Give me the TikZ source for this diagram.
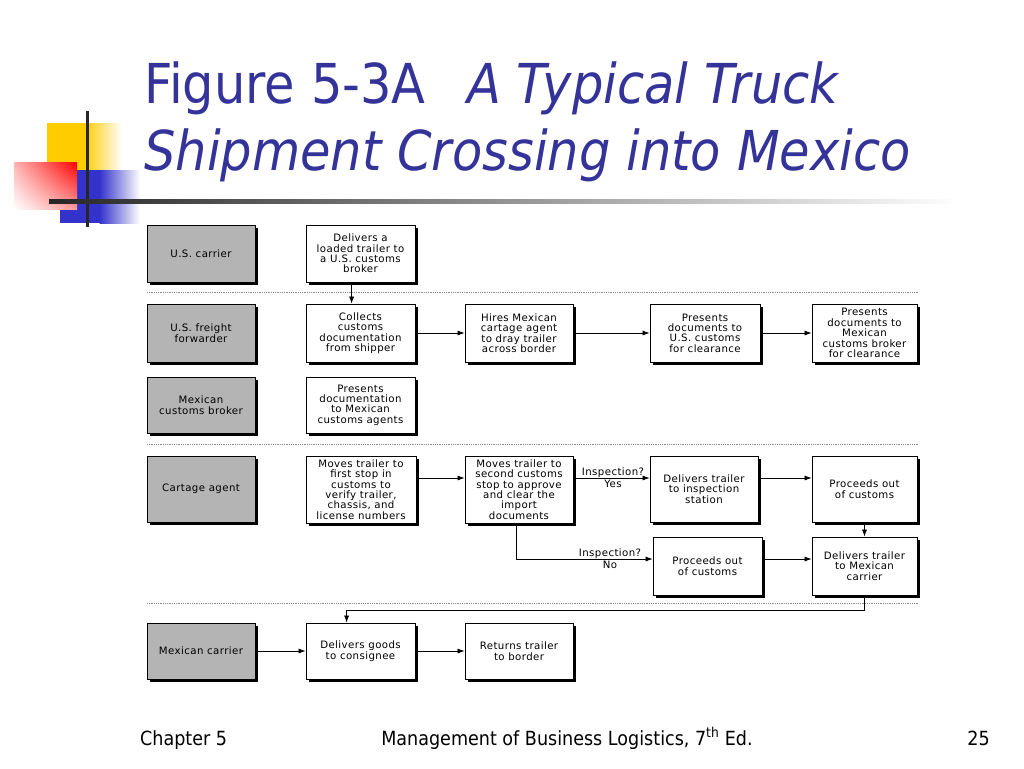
\documentclass[tikz,border=0pt]{standalone}
\usepackage{fontspec}
\usetikzlibrary{arrows.meta,shadows,shadings}
\newfontfamily\titlefont[FakeStretch=0.9]{DejaVu Sans}
\newfontfamily\boxfont[LetterSpace=4]{DejaVu Sans}
\definecolor{titleblue}{RGB}{51,51,153}
\definecolor{rolegrey}{RGB}{180,180,180}
\definecolor{decoyellow}{RGB}{255,204,0}
\definecolor{decoblue}{RGB}{51,51,204}
\definecolor{decored}{RGB}{255,0,0}
\tikzset{
  boxbase/.style={draw=black, line width=0.8pt, align=center, inner sep=1pt,
    font=\boxfont\fontsize{10.2}{10.4}\selectfont,
    drop shadow={shadow xshift=3pt, shadow yshift=-3pt, fill=black, opacity=1}},
  rolebox/.style={boxbase, fill=rolegrey, minimum width=108pt},
  taskbox/.style={boxbase, fill=white, minimum width=108pt},
  arr/.style={draw=black, line width=0.7pt, -{Latex[length=7pt,width=5pt]}},
  sepline/.style={draw=black!45, line width=1pt, dash pattern=on 1pt off 0.8pt},
  lbl/.style={align=center, inner sep=0pt, font=\boxfont\fontsize{10.2}{12}\selectfont},
  titletext/.style={anchor=base west, inner sep=0pt, text=titleblue, font=\titlefont\fontsize{55}{60}\selectfont},
  foot/.style={inner sep=0pt, font=\titlefont\fontsize{19.5}{22}\selectfont}
}
\begin{document}
\begin{tikzpicture}[x=1pt,y=-1pt]
\path[use as bounding box, fill=white] (0,0) rectangle (1024,768);

% decoration
\fill[decoyellow] (47,123) rectangle (85,172);
\shade[left color=decoyellow, right color=white] (84.5,123) rectangle (122,172);
\fill[decoblue] (60,170) rectangle (100,223);
\shade[left color=decoblue, right color=white] (99.5,170) rectangle (140,223);
\shade[upper right=decored, upper left=decored!30!white, lower left=white, lower right=decored!40!white] (14,162) rectangle (77,209);
\draw[line width=3pt, black!85] (87,111) -- (87,227);
\shade[left color=black!85, middle color=black!35, right color=white] (49,199) rectangle (960,203);

% title
\node[titletext] (t1) at (144,103) {Figure 5-3A};
\node[titletext] (t2) at (467,103) {\itshape A Typical Truck};
\node[titletext] (t3) at (144,170) {\itshape Shipment Crossing into Mexico};

% separators
\draw[sepline] (147,292) -- (918,292);
\draw[sepline] (147,444) -- (918,444);
\draw[sepline] (147,603) -- (918,603);

% role boxes
\node[rolebox, minimum height=57pt] (usc) at (201,253.5) {U.S. carrier};
\node[rolebox, minimum height=58pt] (usff) at (201,333) {U.S. freight\\forwarder};
\node[rolebox, minimum height=56pt] (mcb) at (201,405) {Mexican\\customs broker};
\node[rolebox, minimum height=66pt] (cart) at (201,489) {Cartage agent};
\node[rolebox, minimum height=56pt] (mexc) at (201,651) {Mexican carrier};

% column B
\node[taskbox, minimum width=109pt, minimum height=57pt] (b1) at (360.5,253.5) {Delivers a\\loaded trailer to\\a U.S. customs\\broker};
\node[taskbox, minimum width=109pt, minimum height=58pt] (b2) at (360.5,333) {Collects\\customs\\documentation\\from shipper};
\node[taskbox, minimum width=109pt, minimum height=56pt] (b3) at (360.5,405) {Presents\\documentation\\to Mexican\\customs agents};
\node[taskbox, minimum width=110pt, minimum height=67pt] (b4) at (361,489.5) {Moves trailer to\\first stop in\\customs to\\verify trailer,\\chassis, and\\license numbers};
\node[taskbox, minimum width=109pt, minimum height=56pt] (b5) at (360.5,651) {Delivers goods\\to consignee};

% column C
\node[taskbox, minimum height=58pt] (c2) at (519,333) {Hires Mexican\\cartage agent\\to dray trailer\\across border};
\node[taskbox, minimum height=67pt] (c4) at (519,489.5) {Moves trailer to\\second customs\\stop to approve\\and clear the\\import\\documents};
\node[taskbox, minimum height=56pt] (c5) at (519,651) {Returns trailer\\to border};

% column D
\node[taskbox, minimum width=110pt, minimum height=58pt] (d2) at (705,333) {Presents\\documents to\\U.S. customs\\for clearance};
\node[taskbox, minimum height=66pt] (d4) at (704,489) {Delivers trailer\\to inspection\\station};
\node[taskbox, minimum width=109pt, minimum height=58pt] (d5) at (707.5,566) {Proceeds out\\of customs};

% column E
\node[taskbox, minimum width=105pt, minimum height=58pt] (e2) at (864.5,333) {Presents\\documents to\\Mexican\\customs broker\\for clearance};
\node[taskbox, minimum width=105pt, minimum height=66pt] (e4) at (864.5,489) {Proceeds out\\of customs};
\node[taskbox, minimum width=105pt, minimum height=58pt] (e5) at (864.5,566) {Delivers trailer\\to Mexican\\carrier};

% helper coordinates
\coordinate (yrow4) at (0,478);
\coordinate (yno) at (0,559);
\coordinate (ydown) at (0,610);
\coordinate (xsplit) at (516,0);

% connectors
\draw[arr] ([xshift=46pt]b1.south west) -- ([xshift=46pt]b2.north west);
\draw[arr] (b2.east) -- (c2.west);
\draw[arr] (c2.east) -- (d2.west);
\draw[arr] (d2.east) -- (e2.west);

\draw[arr] (b4.east |- yrow4) -- (c4.west |- yrow4);
\draw[arr] (c4.east |- yrow4) -- (d4.west |- yrow4);
\draw[arr] (d4.east |- yrow4) -- (e4.west |- yrow4);
\draw[arr] (e4.south) -- (e5.north);

\draw[arr] (c4.south -| xsplit) |- (d5.west |- yno);
\draw[arr] (d5.east |- yno) -- (e5.west |- yno);

\draw[arr] (e5.south) |- ([xshift=41pt]b5.north west |- ydown) -- ([xshift=41pt]b5.north west);

\draw[arr] (mexc.east) -- (b5.west);
\draw[arr] (b5.east) -- (c5.west);

% labels
\node[lbl] (lyes) at (613,477.5) {Inspection?\\Yes};
\node[lbl] (lno) at (610,559) {Inspection?\\No};

% footer
\node[foot, anchor=base west] (f1) at (140,745) {Chapter 5};
\node[foot, anchor=base] (f2) at (567,745) {Management of Business Logistics, 7\textsuperscript{th} Ed.};
\node[foot, anchor=base east] (f3) at (990,745) {25};
\end{tikzpicture}
\end{document}
